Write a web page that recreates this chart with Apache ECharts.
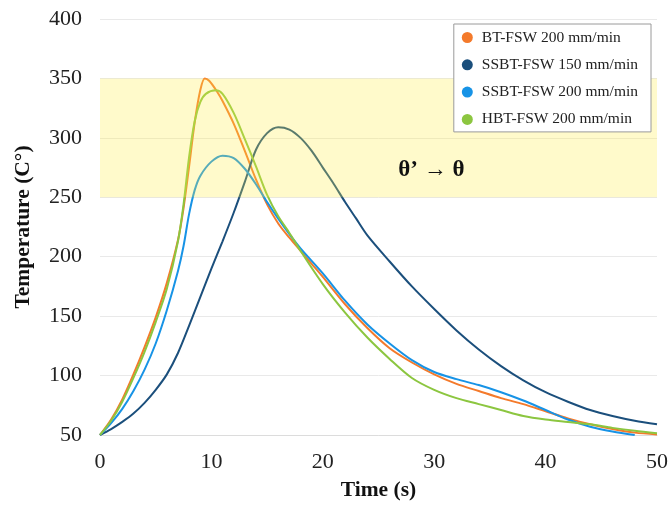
<!DOCTYPE html>
<html>
<head>
<meta charset="utf-8">
<script src="https://cdn.jsdelivr.net/npm/echarts@6/dist/echarts.min.js"></script>
<style>html,body{margin:0;padding:0;background:#fff}#c{width:671px;height:509px}</style>
</head>
<body>
<div id="c"></div>
<script>
var seriesNames = ['BT-FSW 200 mm/min', 'SSBT-FSW 150 mm/min', 'SSBT-FSW 200 mm/min', 'HBT-FSW 200 mm/min'];
var seriesColors = ['#F47A2B', '#1B4F7C', '#1793E6', '#8CC640'];

var btTime   = [0, 1, 2, 3, 4, 5, 6, 7, 7.5, 8, 8.5, 9, 9.4, 9.8, 10.5, 11, 12, 13, 14, 15, 16, 17, 18, 19, 20, 22, 24, 26, 28, 30, 32, 34, 36, 38, 40, 42, 44, 46, 48, 50];
var btTemp   = [50, 63, 80, 101, 124, 149, 178, 214, 241, 276, 313, 340, 350, 348, 339, 331, 312, 289, 265, 244, 228, 216, 205, 194, 183, 160, 140, 123, 111, 101, 93, 87, 81, 76, 70, 64, 59, 55, 52, 50.5];

var ss150Time = [0, 1, 2, 3, 4, 5, 6, 7, 8, 9, 10, 11, 12, 13, 14, 15, 16, 17, 18, 19, 20, 21, 22, 23, 24, 26, 28, 30, 32, 34, 36, 38, 40, 42, 44, 46, 48, 50];
var ss150Temp = [50, 55, 61, 68, 77, 88, 101, 119, 142, 166, 190, 213, 237, 263, 290, 304, 309, 307, 300, 289, 275, 261, 246, 232, 218, 196, 175, 156, 138, 122, 108, 96, 86, 78, 71, 66, 62, 59];

var ss200Time = [0, 1, 2, 3, 4, 5, 6, 7, 7.5, 8, 8.5, 9, 10, 11, 12, 13, 14, 15, 16, 17, 18, 20, 22, 24, 26, 28, 30, 32, 34, 36, 38, 40, 42, 44, 46, 48];
var ss200Temp = [50, 60, 72, 87, 105, 127, 155, 188, 209, 236, 256, 268, 280, 285, 283, 274, 261, 246, 232, 219, 207, 186, 163, 143, 127, 113, 103, 97, 92, 86, 79, 71, 63, 57, 53, 50];

var hbtTime  = [0, 1, 2, 3, 4, 5, 6, 7, 7.5, 8, 8.5, 9, 9.5, 10.4, 11, 12, 13, 14, 15, 16, 17, 18, 20, 22, 24, 26, 28, 30, 32, 34, 36, 38, 40, 42, 44, 46, 48, 50];
var hbtTemp  = [50, 62, 78, 98, 120, 145, 173, 213, 244, 284, 314, 330, 337, 340, 337, 321, 299, 276, 252, 234, 220, 205, 177, 153, 132, 114, 98, 88, 81, 76, 71, 66, 63, 61, 59, 56, 53.5, 51.5];

var xTicks = [0, 10, 20, 30, 40, 50];
var yTicks = [50, 100, 150, 200, 250, 300, 350, 400];
var band = [250, 350];
var bandLabel = 'θ’ → θ';
var bandLabelPos = [29.75, 273];

function pairs(t, v) { return t.map(function (x, i) { return [x, v[i]]; }); }
var allData = [pairs(btTime, btTemp), pairs(ss150Time, ss150Temp), pairs(ss200Time, ss200Temp), pairs(hbtTime, hbtTemp)];

var serif = '"Liberation Serif", "DejaVu Serif", serif';
var chart = echarts.init(document.getElementById('c'), null, {renderer: 'canvas'});

var series = allData.map(function (d, i) {
  return {
    name: seriesNames[i], type: 'line', data: d, smooth: 0.3, showSymbol: false, symbol: 'circle',
    lineStyle: {width: 2, color: seriesColors[i]}, itemStyle: {color: seriesColors[i]}, z: 2
  };
});
series.push({
  name: 'band', type: 'line', data: [], z: 10, silent: true,
  markArea: {
    silent: true, z: 10,
    itemStyle: {color: 'rgba(255, 236, 70, 0.28)'},
    data: [[{yAxis: band[0], xAxis: xTicks[0]}, {yAxis: band[1], xAxis: xTicks[xTicks.length - 1]}]]
  }
});
series.push({
  name: 'bandText', type: 'line', data: [], z: 30, silent: true,
  markPoint: {
    silent: true, symbol: 'circle', symbolSize: 0, z: 30,
    label: {show: true, position: 'inside', formatter: bandLabel, fontFamily: serif, fontWeight: 'bold', fontSize: 23, color: '#111'},
    data: [{coord: bandLabelPos}]
  }
});

chart.setOption({
  animation: false,
  backgroundColor: '#fff',
  grid: {left: 100, right: 13, top: 19, bottom: 74},
  legend: {
    data: seriesNames, orient: 'vertical', right: 20, top: 24, z: 40,
    icon: 'circle', itemWidth: 11, itemHeight: 11, itemGap: 11.3,
    padding: [5.5, 13, 4.5, 8],
    backgroundColor: '#fff', borderColor: '#9a9a9a', borderWidth: 1,
    textStyle: {fontFamily: serif, fontSize: 15.5, color: '#222', padding: [0, 0, 0, 4]}
  },
  xAxis: {
    type: 'value', min: 0, max: 50, interval: 10,
    name: 'Time (s)', nameLocation: 'middle', nameGap: 44,
    nameTextStyle: {fontFamily: serif, fontWeight: 'bold', fontSize: 21.5, color: '#111'},
    axisLine: {show: true, lineStyle: {color: '#dcdcdc'}},
    axisTick: {show: false},
    splitLine: {show: false},
    axisLabel: {fontFamily: serif, fontSize: 22, color: '#222', margin: 16}
  },
  yAxis: {
    type: 'value', min: 50, max: 400, interval: 50,
    name: 'Temperature (C°)', nameLocation: 'middle', nameGap: 66,
    nameTextStyle: {fontFamily: serif, fontWeight: 'bold', fontSize: 21.5, color: '#111'},
    axisLine: {show: false}, axisTick: {show: false},
    splitLine: {show: true, lineStyle: {color: '#e9e9e9', width: 1}},
    axisLabel: {fontFamily: serif, fontSize: 22, color: '#222', margin: 18}
  },
  series: series
});
</script>
</body>
</html>
